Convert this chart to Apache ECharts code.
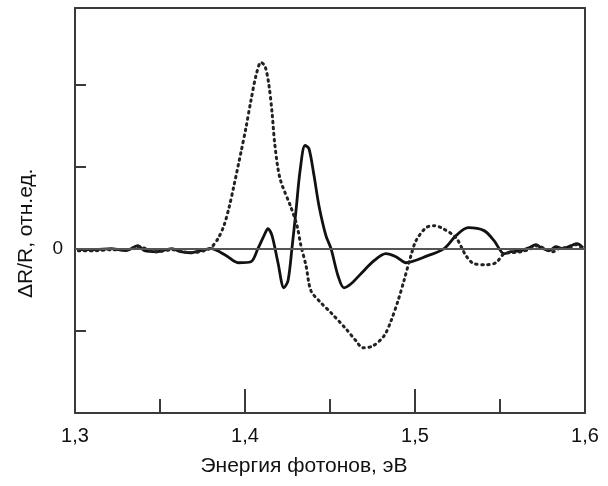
<!DOCTYPE html>
<html>
<head>
<meta charset="utf-8">
<script src="https://cdn.jsdelivr.net/npm/echarts@6/dist/echarts.min.js"></script>
<style>html,body{margin:0;padding:0;background:#fff}#c{width:608px;height:486px}</style>
</head>
<body>
<div id="c"></div>
<script>
// Solid curve: photon energy (eV) and ΔR/R (arb. units)
const solidX = [1.302,1.312,1.321,1.330,1.337,1.341,1.348,1.357,1.362,1.368,1.374,1.380,1.389,1.396,1.4035,1.4076,1.4112,1.4135,1.4159,1.4194,1.4229,1.4253,1.4276,1.430,1.4324,1.4353,1.4376,1.4406,1.4435,1.4476,1.4506,1.4547,1.4582,1.4624,1.4682,1.4759,1.4829,1.4888,1.4947,1.5076,1.5171,1.5241,1.5312,1.5406,1.5465,1.5524,1.5565,1.5624,1.5671,1.5712,1.5741,1.5788,1.5829,1.5871,1.5918,1.5953,1.5988];
const solidY = [-0.012,-0.012,0,-0.024,0.037,-0.024,-0.037,0,-0.037,-0.049,-0.024,0,-0.085,-0.171,-0.159,0,0.159,0.244,0.159,-0.171,-0.476,-0.390,0,0.463,0.951,1.256,1.220,0.890,0.524,0.159,0,-0.329,-0.476,-0.427,-0.305,-0.146,-0.061,-0.098,-0.171,-0.085,0,0.159,0.256,0.220,0.098,-0.061,-0.037,-0.024,0.012,0.049,0.012,-0.024,0.024,0,0.037,0.061,0.012];
// Dotted curve
const dotX = [1.302,1.312,1.321,1.330,1.337,1.348,1.357,1.368,1.376,1.380,1.3841,1.3876,1.3906,1.3935,1.3976,1.4006,1.4035,1.4065,1.4094,1.4118,1.4141,1.4159,1.4176,1.4206,1.4271,1.4306,1.4329,1.4359,1.4388,1.4447,1.4506,1.4594,1.4653,1.4694,1.4753,1.4818,1.4859,1.490,1.4935,1.4976,1.5006,1.5065,1.5112,1.5165,1.5241,1.530,1.5347,1.5418,1.5476,1.5524,1.5565,1.5624,1.5682,1.5724,1.5771,1.5812,1.5859,1.5906,1.5947,1.5988];
const dotY = [-0.024,-0.024,-0.012,-0.012,0.024,-0.037,-0.012,-0.049,-0.024,0.012,0.122,0.280,0.500,0.768,1.171,1.476,1.805,2.110,2.268,2.220,1.988,1.659,1.256,0.854,0.500,0.280,0.037,-0.207,-0.512,-0.659,-0.780,-0.976,-1.122,-1.207,-1.183,-1.061,-0.878,-0.634,-0.390,-0.085,0.098,0.256,0.280,0.244,0.134,-0.085,-0.183,-0.195,-0.171,-0.061,-0.049,-0.037,0,0.037,-0.012,-0.037,0.012,0.012,0.049,0];
const xTicks = [1.3, 1.4, 1.5, 1.6];
const yLabelValues = [0];
const xTitle = 'Энергия фотонов, эВ';
const yTitle = 'ΔR/R, отн.ед.';

const chart = echarts.init(document.getElementById('c'), null, {renderer: 'canvas'});
const axisCol = '#3a3a3a';
const font = 'Liberation Sans, Arial, sans-serif';
chart.setOption({
  animation: false,
  backgroundColor: '#fff',
  grid: {left: 75, right: 23, top: 8, bottom: 73},
  graphic: [{
    type: 'text', left: 'center', top: 456,
    style: {text: xTitle, font: '21px ' + font, fill: '#111'},
    x: -22
  }, {
    type: 'text', rotation: Math.PI / 2, x: 16, y: 298,
    style: {text: yTitle, font: '21px ' + font, fill: '#111', textAlign: 'left', textVerticalAlign: 'top'}
  }],
  xAxis: [{
    type: 'value', min: 1.3, max: 1.6, interval: 0.1,
    axisLine: {onZero: false, lineStyle: {color: axisCol, width: 2}},
    axisTick: {inside: true, length: 24, lineStyle: {color: axisCol, width: 2}},
    minorTick: {show: true, splitNumber: 2, length: 14, lineStyle: {color: axisCol, width: 2}},
    axisLabel: {margin: 13, fontFamily: font, fontSize: 20, color: '#111',
      formatter: v => xTicks.some(t => Math.abs(t - v) < 1e-6) ? v.toFixed(1).replace('.', ',') : ''},
    splitLine: {show: false}
  }, {
    type: 'value', position: 'top', min: 1.3, max: 1.6,
    axisLine: {onZero: false, lineStyle: {color: axisCol, width: 2}},
    axisTick: {show: false}, axisLabel: {show: false}, splitLine: {show: false}
  }],
  yAxis: [{
    type: 'value', min: -2, max: 2.93, interval: 1,
    axisLine: {onZero: false, lineStyle: {color: axisCol, width: 2}},
    axisTick: {inside: true, length: 11, lineStyle: {color: axisCol, width: 2}},
    axisLabel: {margin: 12, fontFamily: font, fontSize: 19, color: '#111',
      formatter: v => yLabelValues.indexOf(v) >= 0 ? String(v) : ''},
    splitLine: {show: false}
  }, {
    type: 'value', position: 'right', min: -2, max: 2.93,
    axisLine: {show: true, onZero: false, lineStyle: {color: axisCol, width: 2}},
    axisTick: {show: false}, axisLabel: {show: false}, splitLine: {show: false}
  }],
  series: [{
    type: 'line', name: 'solid', smooth: 0.3, symbol: 'none',
    data: solidX.map((x, i) => [x, solidY[i]]),
    lineStyle: {color: '#111', width: 2.8},
    markLine: {silent: true, symbol: 'none', label: {show: false},
      lineStyle: {color: '#555', width: 2, type: 'solid'},
      data: [{yAxis: 0}]}
  }, {
    type: 'line', name: 'dotted', smooth: 0.3, symbol: 'none',
    data: dotX.map((x, i) => [x, dotY[i]]),
    lineStyle: {color: '#222', width: 3, type: [1.5, 4.5], cap: 'round'}
  }]
});
</script>
</body>
</html>
